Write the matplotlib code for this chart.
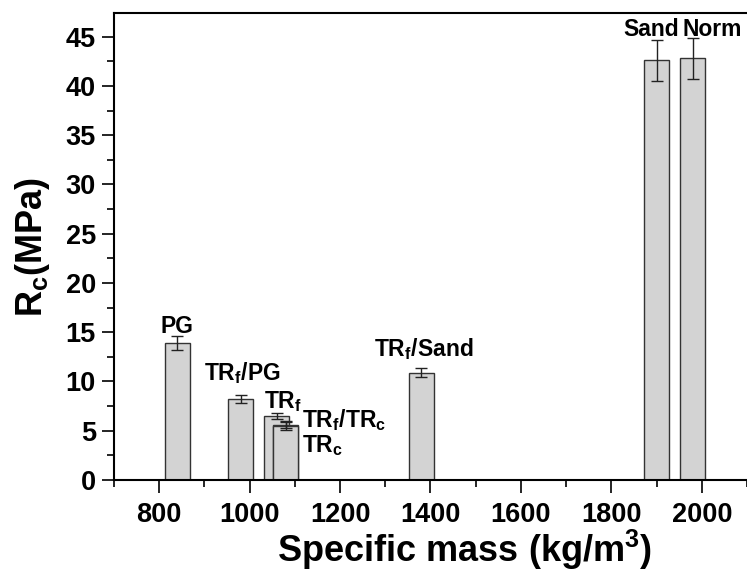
import numpy as np
from matplotlib import pyplot as plt

plt.rcParams['font.family'] = ['Liberation Sans', 'DejaVu Sans']
plt.rcParams['font.weight'] = 'bold'
plt.rcParams['mathtext.fontset'] = 'custom'
plt.rcParams['mathtext.rm'] = 'Liberation Sans:bold'
plt.rcParams['mathtext.it'] = 'Liberation Sans:bold'
plt.rcParams['mathtext.bf'] = 'Liberation Sans:bold'
plt.rcParams['mathtext.default'] = 'regular'

# specific mass (kg/m3), compressive strength (MPa), std dev
mass = [840, 980, 1060, 1080, 1080, 1380, 1900, 1980]
rc = [13.9, 8.2, 6.5, 5.6, 5.5, 10.9, 42.6, 42.8]
err = [0.7, 0.4, 0.3, 0.3, 0.45, 0.45, 2.1, 2.1]

# bar labels: text, x, y, alignment
labels = [r'PG', r'TR$_f$/PG', r'TR$_f$', r'TR$_f$/TR$_c$', r'TR$_c$',
          r'TR$_f$/Sand', r'Sand', r'Norm']
lab_x = [840, 984, 1032, 1115, 1115, 1276, 1889, 2022]
lab_y = [14.9, 10.1, 7.25, 5.37, 2.8, 12.55, 45.1, 45.1]
lab_ha = ['center', 'center', 'left', 'left', 'left', 'left', 'center', 'center']

fig = plt.figure(figsize=(7.47, 5.74), dpi=100)
ax = fig.add_axes([0.1526, 0.1638, 0.8474, 0.8136])

ax.bar(mass, rc, width=56, color='#d3d3d3', edgecolor='#333333', linewidth=1.0,
       yerr=err, error_kw=dict(ecolor='#222222', elinewidth=1.0, capsize=4, capthick=1.0))

for t, x, y, ha in zip(labels, lab_x, lab_y, lab_ha):
    ax.text(x, y, t, ha=ha, va='baseline', fontsize=16.5, fontweight='bold')

ax.set_xlim(700, 2100)
ax.set_ylim(0, 47.4)
ax.set_xticks(np.arange(800, 2001, 200))
ax.set_xticks(np.arange(700, 2101, 100), minor=True)
ax.set_yticks(np.arange(0, 46, 5))
ax.set_yticks(np.arange(0, 47.5, 2.5), minor=True)
ax.tick_params(which='major', direction='out', length=9, width=1.2, labelsize=19.5)
ax.tick_params(which='minor', direction='out', length=5, width=1.2)
ax.tick_params(axis='x', which='major', pad=7)
ax.tick_params(axis='y', which='major', pad=4)
for lab in ax.get_xticklabels() + ax.get_yticklabels():
    lab.set_fontweight('bold')
for s in ['left', 'bottom', 'top']:
    ax.spines[s].set_linewidth(1.5)
ax.spines['right'].set_visible(False)

ax.set_xlabel(r'Specific mass (kg/m$^3$)', fontsize=26, fontweight='bold')
ax.set_ylabel(r'R$_c$(MPa)', fontsize=26, fontweight='bold')
ax.xaxis.set_label_coords(0.5545, -0.103)
ax.yaxis.set_label_coords(-0.098, 0.5)

fig.savefig('out.png', dpi=100)
